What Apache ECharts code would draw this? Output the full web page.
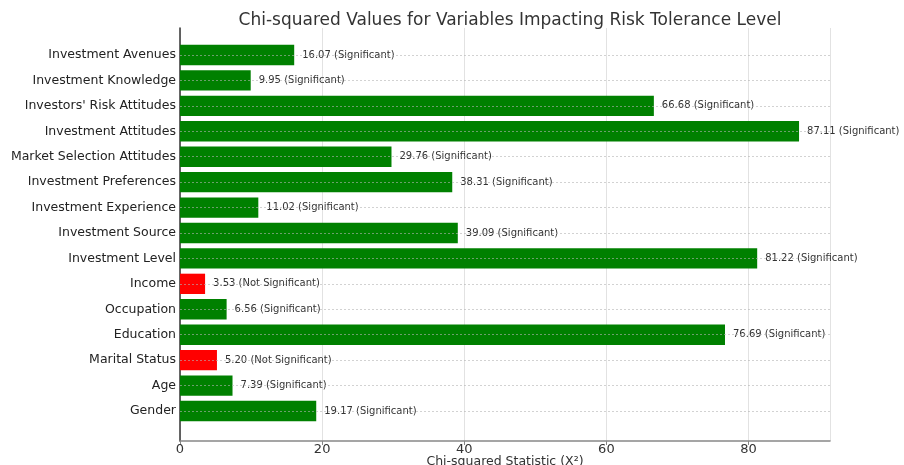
<!DOCTYPE html>
<html>
<head>
<meta charset="utf-8">
<script src="https://cdn.jsdelivr.net/npm/echarts@6/dist/echarts.min.js"></script>
<style>html,body{margin:0;padding:0;background:#fff}#c{width:904px;height:465px}</style>
</head>
<body>
<div id="c"></div>
<script>
const categories = ["Investment Avenues","Investment Knowledge","Investors' Risk Attitudes","Investment Attitudes","Market Selection Attitudes","Investment Preferences","Investment Experience","Investment Source","Investment Level","Income","Occupation","Education","Marital Status","Age","Gender"];
const values = [16.07, 9.95, 66.68, 87.11, 29.76, 38.31, 11.02, 39.09, 81.22, 3.53, 6.56, 76.69, 5.20, 7.39, 19.17];
const significance = ["Significant","Significant","Significant","Significant","Significant","Significant","Significant","Significant","Significant","Not Significant","Significant","Significant","Not Significant","Significant","Significant"];
const xTicks = [0, 20, 40, 60, 80];

const xMax = Math.max(...values) * 1.05;
const font = 'DejaVu Sans';
const chart = echarts.init(document.getElementById('c'), null, {renderer: 'canvas'});
chart.setOption({
  animation: false,
  backgroundColor: '#fff',
  title: {
    text: 'Chi-squared Values for Variables Impacting Risk Tolerance Level',
    left: 505, top: 7, textAlign: 'center',
    textStyle: {fontFamily: font, fontSize: 17, fontWeight: 'normal', color: '#333'}
  },
  grid: [
    {left: 180, right: 74, top: 55, bottom: 54, outerBoundsMode: 'none', containLabel: false},
    {left: 180, right: 74, top: 28, bottom: 24, outerBoundsMode: 'none', containLabel: false}
  ],
  xAxis: [
    {gridIndex: 0, type: 'value', min: 0, max: xMax, show: false},
    {gridIndex: 1, type: 'value', min: 0, max: xMax, interval: 20,
      axisLine: {show: true, lineStyle: {color: '#888', width: 1.5}},
      axisTick: {show: true, length: 4, lineStyle: {color: '#888'}},
      axisLabel: {fontFamily: font, fontSize: 13, color: '#333', margin: 2, showMaxLabel: false,
        formatter: v => xTicks.includes(v) ? String(v) : ''},
      splitLine: {show: true, lineStyle: {color: '#e2e2e2', width: 1, type: 'solid'}},
      name: 'Chi-squared Statistic (X²)', nameLocation: 'middle', nameGap: 14, nameMoveOverlap: false,
      nameTextStyle: {fontFamily: font, fontSize: 12.5, color: '#333'}
    }
  ],
  yAxis: [
    {gridIndex: 0, type: 'category', data: categories, inverse: true, boundaryGap: false, z: 5,
      axisLine: {show: false}, axisTick: {show: false},
      axisLabel: {fontFamily: font, fontSize: 12.5, color: '#222', margin: 4, padding: [3, 0, 0, 0]},
      splitLine: {show: true, lineStyle: {color: 'rgba(180,180,180,0.6)', width: 1, type: [2, 2]}}
    },
    {gridIndex: 1, type: 'value', min: 0, max: 1,
      axisLine: {show: true, lineStyle: {color: '#333', width: 1.5}},
      axisTick: {show: false}, axisLabel: {show: false}, splitLine: {show: false}
    }
  ],
  series: [{
    type: 'bar', xAxisIndex: 0, yAxisIndex: 0, barWidth: '80%',
    data: values.map((v, i) => ({
      value: v,
      itemStyle: {color: significance[i] === 'Significant' ? '#008000' : '#ff0000'}
    })),
    label: {
      show: true, position: 'right', distance: 8,
      fontFamily: font, fontSize: 10, color: '#333',
      formatter: p => values[p.dataIndex].toFixed(2) + ' (' + significance[p.dataIndex] + ')'
    }
  }]
});
</script>
</body>
</html>
